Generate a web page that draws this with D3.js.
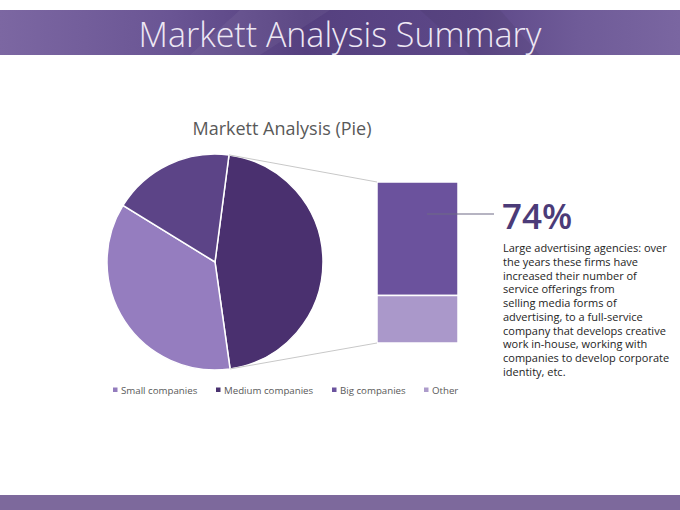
<!DOCTYPE html>
<html>
<head>
<meta charset="utf-8">
<script src="https://cdn.jsdelivr.net/npm/d3@7"></script>
<style>
  html, body { margin: 0; padding: 0; background: #fff; }
  svg { display: block; font-family: "Open Sans", "Noto Sans", sans-serif; }
</style>
</head>
<body>
<svg id="chart" width="680" height="510"></svg>
<script>
// chart data
const categories = ['Small companies', 'Medium companies', 'Big companies', 'Other'];
const values = [36, 45.7, 12.9, 5.4];
const legendColors = ['#937cbd', '#4a3270', '#6b539e', '#ad9ccb'];
const secondary = ['Big companies', 'Other'];   // split into the bar
const headline = '74%';
const noteLines = [
    'Large advertising agencies: over',
    'the years these firms have',
    'increased their number of',
    'service offerings from',
    'selling media forms of',
    'advertising, to a full-service',
    'company that develops creative',
    'work in-house, working with',
    'companies to develop corporate',
    'identity, etc.'
];

const svg = d3.select('#chart');
const W = 680, H = 510;

// header band
const defs = svg.append('defs');
const grad = defs.append('linearGradient').attr('id', 'band');
[[0, '#7c67a2'], [0.25, '#6a5594'], [0.45, '#55407f'], [0.7, '#5d4888'], [0.85, '#6f5b98'], [1, '#7a66a1']]
    .forEach(([o, c]) => grad.append('stop').attr('offset', o).attr('stop-color', c));

svg.append('rect').attr('x', 0).attr('y', 10).attr('width', W).attr('height', 45).attr('fill', 'url(#band)');
// faint facets in the band
svg.append('path').attr('d', 'M190,55 L240,10 L330,10 L260,55 Z').attr('fill', '#ffffff').attr('opacity', 0.05);
svg.append('path').attr('d', 'M420,10 L500,10 L540,55 L470,55 Z').attr('fill', '#000000').attr('opacity', 0.05);
svg.append('text')
    .attr('x', W / 2).attr('y', 47)
    .attr('text-anchor', 'middle')
    .attr('fill', '#eee8f4')
    .attr('font-size', 34)
    .attr('font-weight', 300)
    .text('Markett Analysis Summary');

// footer band
svg.append('rect').attr('x', 0).attr('y', 495).attr('width', W).attr('height', 15).attr('fill', '#7d699c');

// chart title
svg.append('text')
    .attr('x', 282).attr('y', 135)
    .attr('text-anchor', 'middle')
    .attr('fill', '#595959')
    .attr('font-size', 18)
    .text('Markett Analysis (Pie)');

// main pie: medium, small, then the combined slice
const combined = d3.sum(secondary.map(s => values[categories.indexOf(s)]));
const pieData = [
    {name: 'Medium companies', value: values[1], color: '#4a306f'},
    {name: 'Small companies', value: values[0], color: '#957dbf'},
    {name: 'Combined', value: combined, color: '#5c4487'}
];
const cx = 215, cy = 262, r = 108;
const startAngle = 7.45 * Math.PI / 180;
const pie = d3.pie().sort(null).value(d => d.value)
    .startAngle(startAngle).endAngle(startAngle + 2 * Math.PI);
const arc = d3.arc().innerRadius(0).outerRadius(r);
const arcs = pie(pieData);

const g = svg.append('g').attr('transform', `translate(${cx},${cy})`);
g.selectAll('path').data(arcs).join('path')
    .attr('d', arc)
    .attr('fill', d => d.data.color)
    .attr('stroke', '#ffffff')
    .attr('stroke-width', 1.5);

// secondary bar
const barX = 377, barW = 81, barTop = 182, barBottom = 343;
const y = d3.scaleLinear().domain([0, combined]).range([barTop, barBottom]);
const barColors = {'Big companies': '#6b529d', 'Other': '#aa98ca'};
let acc = 0;
const barData = secondary.map(s => {
    const v = values[categories.indexOf(s)];
    const d = {name: s, y0: acc, y1: acc + v};
    acc += v;
    return d;
});
svg.selectAll('rect.seg').data(barData).join('rect')
    .attr('class', 'seg')
    .attr('x', barX).attr('width', barW)
    .attr('y', d => y(d.y0)).attr('height', d => y(d.y1) - y(d.y0))
    .attr('fill', d => barColors[d.name])
    .attr('stroke', '#ffffff').attr('stroke-width', 1.5);

// connector lines from the combined slice edges to the bar
const comb = arcs[2];
const edgeTop = comb.endAngle, edgeBottom = arcs[0].endAngle;
const pt = a => [cx + r * Math.sin(a), cy - r * Math.cos(a)];
const pTop = pt(edgeTop), pBot = pt(edgeBottom);
svg.append('line')
    .attr('x1', pTop[0]).attr('y1', pTop[1]).attr('x2', barX).attr('y2', barTop)
    .attr('stroke', '#c8c8c8').attr('stroke-width', 1);
svg.append('line')
    .attr('x1', pBot[0]).attr('y1', pBot[1]).attr('x2', barX).attr('y2', barBottom)
    .attr('stroke', '#c8c8c8').attr('stroke-width', 1);

// legend
const legendX = [113, 216, 332, 424];
const lg = svg.selectAll('g.legend').data(categories).join('g')
    .attr('class', 'legend')
    .attr('transform', (d, i) => `translate(${legendX[i]},390)`);
lg.append('rect').attr('x', 0).attr('y', -2.5).attr('width', 4.5).attr('height', 4.5)
    .attr('fill', (d, i) => legendColors[i]);
lg.append('text').attr('x', 8).attr('y', 3.5)
    .attr('font-size', 9.7).attr('fill', '#595959')
    .text(d => d);

// callout
svg.append('line')
    .attr('x1', 427).attr('y1', 214).attr('x2', 494).attr('y2', 214)
    .attr('stroke', '#6e6a86').attr('stroke-width', 1.2);
svg.append('text')
    .attr('x', 502).attr('y', 229)
    .attr('fill', '#4b3b78')
    .attr('font-size', 35)
    .attr('font-weight', 600)
    .text(headline);
svg.append('g').selectAll('text').data(noteLines).join('text')
    .attr('x', 503)
    .attr('y', (d, i) => 252 + i * 13.75)
    .attr('font-size', 11)
    .attr('fill', '#1e1e1e')
    .text(d => d);
</script>
</body>
</html>
